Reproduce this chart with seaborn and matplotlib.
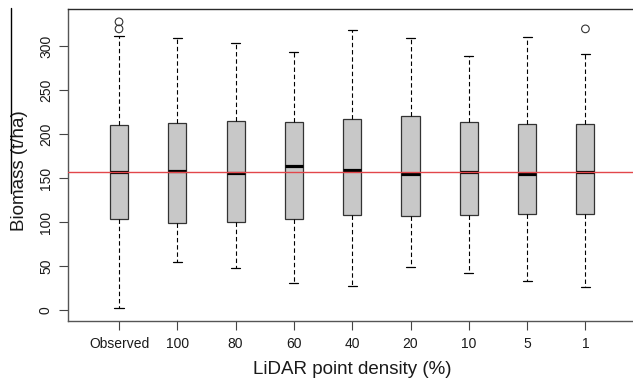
import numpy as np
import pandas as pd
import matplotlib
matplotlib.use("Agg")
import matplotlib.pyplot as plt
from matplotlib.lines import Line2D
import seaborn as sns

# Biomass summaries per LiDAR point density (t/ha)
categories = ["Observed", "100", "80", "60", "40", "20", "10", "5", "1"]
whisker_low = [3, 55, 48, 31, 28, 49, 43, 33, 27]
q1 = [104, 99, 100, 104, 108, 107, 108, 110, 110]
median = [157, 158, 156, 164, 160, 155, 157, 155, 157]
q3 = [211, 213, 215, 214, 218, 221, 214, 212, 212]
whisker_high = [312, 310, 304, 294, 319, 310, 289, 311, 291]

outlier_groups = ["Observed", "Observed", "1"]
outlier_values = [320, 328, 320]

reference_median = 157.5

y_ticks = [0, 50, 100, 150, 200, 250, 300]

# Five-number summaries as long-form rows (quartiles reproduce exactly)
rows = []
for cat, lo, a, m, b, hi in zip(categories, whisker_low, q1, median, q3, whisker_high):
    for v in (lo, a, m, b, hi):
        rows.append({"density": cat, "biomass": v})
box_df = pd.DataFrame(rows)
out_df = pd.DataFrame({"density": outlier_groups, "biomass": outlier_values})

sns.set_theme(style="white")
plt.rcParams["font.family"] = ["Liberation Sans", "DejaVu Sans"]

W, H = 633, 380
fig = plt.figure(figsize=(W / 100, H / 100), dpi=100)
left_px, top_px, bottom_px = 68, 9, 321
unit_px = 58.3
xlim = (-0.875, 8.86)
ax_w = (xlim[1] - xlim[0]) * unit_px
ax = fig.add_axes([left_px / W, (H - bottom_px) / H, ax_w / W, (bottom_px - top_px) / H])

edge = "#333333"
sns.boxplot(
    data=box_df, x="density", y="biomass", order=categories, ax=ax,
    whis=(0, 100), width=0.31, color="#C8C8C8", saturation=1,
    linecolor=edge, linewidth=0.9, showfliers=False,
    medianprops={"color": "black", "linewidth": 2.3},
    whiskerprops={"color": "black", "linewidth": 0.8, "linestyle": (0, (4, 2.5))},
    capprops={"color": "black", "linewidth": 0.9},
    boxprops={"edgecolor": edge, "linewidth": 0.9},
)

sns.stripplot(
    data=out_df, x="density", y="biomass", order=categories, ax=ax,
    jitter=False, size=5.5, color=edge, facecolor="none",
    edgecolor=edge, linewidth=0.8, zorder=4,
)

ax.axhline(reference_median, color="#E2474B", linewidth=1.0, zorder=6)

ax.set_xlim(*xlim)
ax.set_ylim(-12.0, 342.6)
ax.set_yticks(y_ticks)
ax.set_yticklabels([str(t) for t in y_ticks], rotation=90, va="center", ha="right")
ax.set_xticks(range(len(categories)))
ax.set_xticklabels(categories)

ax.tick_params(axis="both", which="both", direction="out", length=6.5, width=0.8,
               color="#444444", labelsize=10, labelcolor="#1a1a1a")
ax.tick_params(axis="y", pad=4.3)
ax.tick_params(axis="x", pad=4.8)
ax.yaxis.set_ticks_position("left")
ax.xaxis.set_ticks_position("bottom")

for side in ("left", "bottom"):
    ax.spines[side].set_color("#555555")
    ax.spines[side].set_linewidth(1.0)
ax.spines["top"].set_color("#2a2a2a")
ax.spines["top"].set_linewidth(1.0)
ax.spines["right"].set_visible(False)

ax.set_xlabel("LiDAR point density (%)", fontsize=13.5, color="#1a1a1a", va="center")
ax.set_ylabel("Biomass (t/ha)", fontsize=13.5, color="#1a1a1a", va="center")
ax.xaxis.set_label_coords(0.5, (bottom_px - 369) / (bottom_px - top_px))
ax.yaxis.set_label_coords((20 - left_px) / ax_w, (bottom_px - 171) / (bottom_px - top_px))

# thin rule along the left margin
fig.add_artist(Line2D([11 / W, 11 / W], [1 - 8 / H, 1 - 193 / H],
                      color="black", linewidth=1.0))

fig.savefig("out.png", dpi=100)
